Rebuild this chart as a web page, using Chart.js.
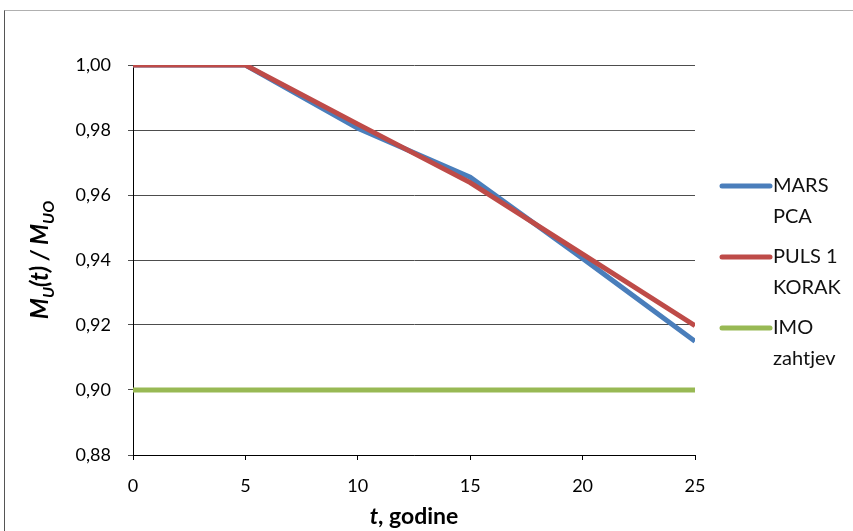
<!DOCTYPE html>
<html>
<head>
<meta charset="utf-8">
<script src="https://cdn.jsdelivr.net/npm/chart.js@4.4.1/dist/chart.umd.min.js"></script>
<style>
  html, body { margin: 0; padding: 0; background: #fff; overflow: hidden; }
  #wrap { position: relative; width: 853px; height: 531px; }
  #frame { position: absolute; left: 4px; top: 10px; width: 900px; height: 600px;
           border-top: 1px solid #b0b0b0; border-left: 1px solid #555; }
  canvas { position: absolute; left: 0; top: 0; }
</style>
</head>
<body>
<div id="wrap">
  <div id="frame"></div>
  <canvas id="myChart" width="853" height="531"></canvas>
</div>
<script>
// data
const years = [0, 5, 10, 15, 20, 25];
const marsPca = [1.0, 1.0, 0.9805, 0.9655, 0.9405, 0.915];
const puls1 = [1.0, 1.0, 0.9818, 0.9638, 0.9418, 0.9198];
const imo = [0.9, 0.9, 0.9, 0.9, 0.9, 0.9];
const seriesNames = [["MARS", "PCA"], ["PULS 1", "KORAK"], ["IMO", "zahtjev"]];
const seriesColors = ["#4a7ebb", "#be4b48", "#98b954"];

const toXY = (arr) => years.map((x, i) => ({ x: x, y: arr[i] }));
const fontFamily = "Lato, 'Open Sans', sans-serif";

// legend on the right, two-line labels
const sideLegend = {
  id: "sideLegend",
  afterDraw(chart) {
    const ctx = chart.ctx;
    const area = chart.chartArea;
    const x0 = area.right + 27;
    ctx.save();
    ctx.font = "20px " + fontFamily;
    ctx.textBaseline = "middle";
    chart.data.datasets.forEach(function (ds, i) {
      const y = area.top + 121 + i * 71;
      ctx.strokeStyle = ds.borderColor;
      ctx.lineWidth = 5;
      ctx.lineCap = "round";
      ctx.beginPath();
      ctx.moveTo(x0, y);
      ctx.lineTo(x0 + 48, y);
      ctx.stroke();
      ctx.fillStyle = "#111";
      seriesNames[i].forEach(function (line, j) {
        ctx.fillText(line, x0 + 51, y + j * 31);
      });
    });
    ctx.restore();
  }
};

// axis titles with subscripts / mixed styles
const axisTitles = {
  id: "axisTitles",
  afterDraw(chart) {
    const ctx = chart.ctx;
    const area = chart.chartArea;
    ctx.save();
    ctx.fillStyle = "#000";
    ctx.textBaseline = "alphabetic";

    // y title
    const parts = [
      { t: "M", f: "italic bold 24px " + fontFamily, dy: 0 },
      { t: "U", f: "italic bold 16px " + fontFamily, dy: 6 },
      { t: "(t) / M", f: "italic bold 24px " + fontFamily, dy: 0 },
      { t: "UO", f: "italic bold 16px " + fontFamily, dy: 6 }
    ];
    let total = 0;
    parts.forEach(function (p) { ctx.font = p.f; p.w = ctx.measureText(p.t).width; total += p.w; });
    ctx.translate(48, (area.top + area.bottom) / 2);
    ctx.rotate(-Math.PI / 2);
    let x = -total / 2;
    parts.forEach(function (p) {
      ctx.font = p.f;
      ctx.fillText(p.t, x, p.dy);
      x += p.w;
    });
    ctx.setTransform(1, 0, 0, 1, 0, 0);

    // x title
    const a = { t: "t", f: "italic bold 23px " + fontFamily };
    const b = { t: ", godine", f: "bold 23px " + fontFamily };
    ctx.font = a.f; const wa = ctx.measureText(a.t).width;
    ctx.font = b.f; const wb = ctx.measureText(b.t).width;
    let xs = (area.left + area.right) / 2 - (wa + wb) / 2;
    const yb = 524;
    ctx.font = a.f; ctx.fillText(a.t, xs, yb);
    ctx.font = b.f; ctx.fillText(b.t, xs + wa, yb);
    ctx.restore();
  }
};

const config = {
  type: "line",
  data: {
    datasets: [
      { label: "MARS PCA", data: toXY(marsPca), borderColor: seriesColors[0], order: 2 },
      { label: "PULS 1 KORAK", data: toXY(puls1), borderColor: seriesColors[1], order: 1 },
      { label: "IMO zahtjev", data: toXY(imo), borderColor: seriesColors[2], order: 0 }
    ]
  },
  options: {
    responsive: false,
    animation: false,
    layout: { padding: { top: 65, right: 158, bottom: 0, left: 0 } },
    elements: {
      line: { borderWidth: 5, tension: 0, borderCapStyle: "butt" },
      point: { radius: 0 }
    },
    plugins: { legend: { display: false }, tooltip: { enabled: false } },
    scales: {
      x: {
        type: "linear",
        min: 0, max: 25,
        ticks: { stepSize: 5, padding: 15, color: "#000", font: { family: fontFamily, size: 18 } },
        grid: { drawOnChartArea: false, drawTicks: true, tickLength: 5, color: "#000" },
        border: { color: "#000", width: 1 },
        afterFit(scale) { scale.height = 76; }
      },
      y: {
        min: 0.88, max: 1.0,
        ticks: {
          stepSize: 0.02, padding: 17, color: "#000",
          font: { family: fontFamily, size: 18 },
          callback: (v) => v.toFixed(2).replace(".", ",")
        },
        grid: { color: "#4d4d4d", tickLength: 5 },
        border: { color: "#000", width: 1 },
        afterFit(scale) { scale.width = 133; }
      }
    }
  },
  plugins: [sideLegend, axisTitles]
};

const myChart = new Chart(document.getElementById("myChart"), config);
</script>
</body>
</html>
